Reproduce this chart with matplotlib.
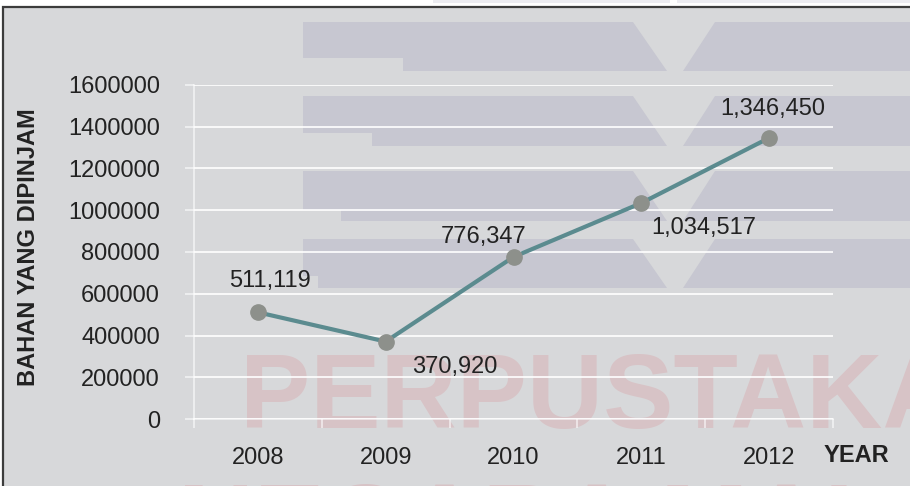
import matplotlib

matplotlib.use("Agg")
import matplotlib.pyplot as plt
import numpy as np
from matplotlib.patches import Polygon, Rectangle

plt.rcParams["font.family"] = ["Liberation Sans", "DejaVu Sans"]

# ---- data ----
years = ["2008", "2009", "2010", "2011", "2012"]
loans = [511119, 370920, 776347, 1034517, 1346450]
y_ticks = [0, 200000, 400000, 600000, 800000, 1000000, 1200000, 1400000, 1600000]

# label offsets from each point, in pixels (x right, y up)
label_offsets = [(12, 31), (69, -25), (-30, 20), (62, -25), (4, 29)]

W, H = 910, 486
BG = "#d7d8da"
BAR = "#c7c7d1"
PINK = "#d7c3c6"
TXT = "#222222"
GRID = (1, 1, 1, 0.65)


def fpx(x, y):
    """pixel (from top-left) -> figure fraction"""
    return x / W, 1 - y / H


fig = plt.figure(figsize=(W / 100, H / 100), dpi=100)
fig.patch.set_facecolor("white")

# faint bits of the logo above the frame
for x0, x1 in ((433, 670), (677, W + 5)):
    fig.patches.append(
        Rectangle(fpx(x0, 3), (x1 - x0) / W, 3 / H,
                  transform=fig.transFigure, fc="#ececf1", ec="none", zorder=-4)
    )

# grey panel with dark frame (right/bottom run off the page)
fig.patches.append(
    Rectangle(
        fpx(3, H + 20), 1.2, (H + 13) / H,
        transform=fig.transFigure, fc=BG, ec="#3c3c3c", lw=1.6, zorder=-3,
    )
)

# faint library logo watermark: four stacked bands with a V notch
rows = [(22, 58, 71, 403), (96, 133, 146, 372), (171, 210, 221, 341), (239, 276, 288, 318)]
for top, mid, bot, step in rows:
    left = [(303, top), (633, top), (667, bot), (step, bot), (step, mid), (303, mid)]
    right = [(715, top), (W + 10, top), (W + 10, bot), (683, bot)]
    for pts in (left, right):
        fig.patches.append(
            Polygon([fpx(x, y) for x, y in pts], closed=True,
                    transform=fig.transFigure, fc=BAR, ec="none", zorder=-2)
        )

# pink watermark text
fig.text(*fpx(240, 428), "PERPUSTAKAAN", fontsize=76, weight="bold",
         color=PINK, ha="left", va="baseline", zorder=-1)
fig.text(*fpx(178, 558), "NEGARA MALAYSIA", fontsize=76, weight="bold",
         color=PINK, ha="left", va="baseline", zorder=-1)

# ---- chart ----
ax = fig.add_axes([194 / W, 1 - 419 / H, 639 / W, 334 / H])
ax.patch.set_alpha(0)
x = np.arange(len(years))

ax.plot(x, loans, color="#5b8b8f", lw=3, marker="o", ms=11,
        mfc="#8d908b", mec="#8d908b", zorder=3, clip_on=False)

for xi, v, (dx, dy) in zip(x, loans, label_offsets):
    ax.annotate(f"{v:,}", (xi, v), xytext=(dx, dy), textcoords="offset pixels",
                ha="center", va="center", fontsize=17, color=TXT, zorder=4)

ax.set_xlim(-0.5, len(years) - 0.5)
ax.set_ylim(0, 1600000)
ax.set_yticks(y_ticks)
ax.set_yticklabels([str(t) for t in y_ticks])
ax.yaxis.grid(True, color=GRID, lw=1.2)
ax.set_axisbelow(True)

ax.set_xticks(np.arange(-0.5, len(years), 1))
ax.set_xticklabels([])
ax.set_xticks(x, minor=True)
ax.set_xticklabels(years, minor=True)

ax.tick_params(axis="y", length=6.5, width=1.2, color=GRID, pad=18,
               labelsize=17, labelcolor=TXT)
ax.tick_params(axis="x", which="major", length=6.5, width=1.2, color=GRID)
ax.tick_params(axis="x", which="minor", length=0, pad=20,
               labelsize=17, labelcolor=TXT)

for side in ("top", "right"):
    ax.spines[side].set_visible(False)
for side in ("left", "bottom"):
    ax.spines[side].set_color(GRID)
    ax.spines[side].set_linewidth(1.2)

fig.text(*fpx(29, 247), "BAHAN YANG DIPINJAM", rotation=90, fontsize=17,
         weight="bold", color=TXT, ha="center", va="center")
fig.text(*fpx(856, 455), "YEAR", fontsize=17, weight="bold", color=TXT,
         ha="center", va="center")

fig.savefig("out.png", dpi=100, facecolor=fig.get_facecolor())
